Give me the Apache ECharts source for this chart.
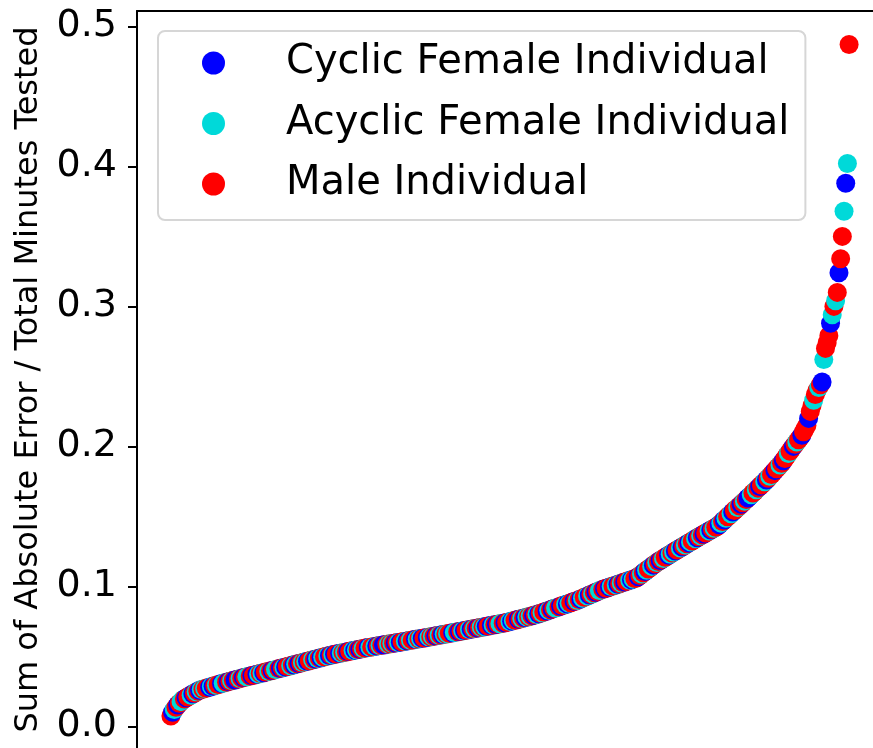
<!DOCTYPE html>
<html>
<head>
<meta charset="utf-8">
<script src="https://cdn.jsdelivr.net/npm/echarts@6/dist/echarts.min.js"></script>
<style>
  html, body { margin: 0; padding: 0; background: #fff; }
  #chart { width: 873px; height: 748px; }
</style>
</head>
<body>
<div id="chart"></div>
<script>
// Error score per individual, ranked from smallest to largest
const scores = [
  0.0075, 0.0101, 0.0121, 0.0137, 0.0153, 0.0166, 0.0177, 0.0191, 0.0196, 0.0204, 0.0210, 0.0219, 0.0223, 0.0233, 0.0237, 0.0247, 0.0252, 0.0259, 0.0264, 0.0266,
  0.0271, 0.0273, 0.0278, 0.0280, 0.0285, 0.0287, 0.0292, 0.0294, 0.0299, 0.0301, 0.0306, 0.0308, 0.0313, 0.0315, 0.0320, 0.0322, 0.0327, 0.0330, 0.0332, 0.0336,
  0.0339, 0.0342, 0.0345, 0.0349, 0.0351, 0.0354, 0.0358, 0.0360, 0.0364, 0.0366, 0.0369, 0.0373, 0.0375, 0.0379, 0.0381, 0.0384, 0.0388, 0.0390, 0.0393, 0.0397,
  0.0400, 0.0402, 0.0406, 0.0409, 0.0413, 0.0415, 0.0419, 0.0421, 0.0425, 0.0428, 0.0431, 0.0434, 0.0438, 0.0440, 0.0444, 0.0447, 0.0450, 0.0453, 0.0456, 0.0460,
  0.0463, 0.0466, 0.0469, 0.0472, 0.0476, 0.0478, 0.0482, 0.0485, 0.0488, 0.0491, 0.0494, 0.0497, 0.0501, 0.0503, 0.0507, 0.0510, 0.0512, 0.0515, 0.0517, 0.0520,
  0.0522, 0.0525, 0.0527, 0.0530, 0.0532, 0.0535, 0.0537, 0.0540, 0.0542, 0.0545, 0.0547, 0.0550, 0.0552, 0.0555, 0.0557, 0.0560, 0.0562, 0.0564, 0.0566, 0.0568,
  0.0570, 0.0571, 0.0574, 0.0577, 0.0578, 0.0580, 0.0583, 0.0584, 0.0587, 0.0588, 0.0590, 0.0593, 0.0594, 0.0596, 0.0599, 0.0600, 0.0602, 0.0605, 0.0606, 0.0609,
  0.0611, 0.0613, 0.0615, 0.0618, 0.0619, 0.0622, 0.0623, 0.0626, 0.0628, 0.0630, 0.0632, 0.0634, 0.0636, 0.0638, 0.0640, 0.0643, 0.0644, 0.0647, 0.0649, 0.0651,
  0.0653, 0.0656, 0.0658, 0.0660, 0.0662, 0.0665, 0.0667, 0.0669, 0.0671, 0.0674, 0.0676, 0.0678, 0.0680, 0.0683, 0.0685, 0.0687, 0.0690, 0.0692, 0.0694, 0.0697,
  0.0699, 0.0701, 0.0703, 0.0706, 0.0708, 0.0710, 0.0712, 0.0715, 0.0717, 0.0719, 0.0722, 0.0724, 0.0726, 0.0728, 0.0731, 0.0733, 0.0735, 0.0737, 0.0740, 0.0743,
  0.0746, 0.0750, 0.0752, 0.0756, 0.0759, 0.0762, 0.0765, 0.0768, 0.0771, 0.0775, 0.0777, 0.0781, 0.0784, 0.0787, 0.0790, 0.0793, 0.0797, 0.0800, 0.0804, 0.0808,
  0.0812, 0.0817, 0.0821, 0.0825, 0.0829, 0.0833, 0.0838, 0.0842, 0.0846, 0.0850, 0.0854, 0.0858, 0.0863, 0.0867, 0.0871, 0.0875, 0.0879, 0.0883, 0.0888, 0.0892,
  0.0896, 0.0900, 0.0906, 0.0911, 0.0916, 0.0922, 0.0927, 0.0932, 0.0938, 0.0943, 0.0948, 0.0954, 0.0959, 0.0964, 0.0970, 0.0975, 0.0979, 0.0983, 0.0987, 0.0991,
  0.0995, 0.0999, 0.1003, 0.1007, 0.1011, 0.1015, 0.1019, 0.1024, 0.1028, 0.1032, 0.1036, 0.1040, 0.1044, 0.1048, 0.1052, 0.1056, 0.1060, 0.1069, 0.1078, 0.1088,
  0.1097, 0.1106, 0.1115, 0.1124, 0.1134, 0.1143, 0.1152, 0.1161, 0.1170, 0.1178, 0.1185, 0.1193, 0.1200, 0.1208, 0.1215, 0.1223, 0.1230, 0.1238, 0.1245, 0.1253,
  0.1260, 0.1267, 0.1275, 0.1282, 0.1289, 0.1296, 0.1304, 0.1311, 0.1318, 0.1325, 0.1333, 0.1340, 0.1347, 0.1354, 0.1361, 0.1368, 0.1375, 0.1382, 0.1389, 0.1396,
  0.1403, 0.1409, 0.1416, 0.1423, 0.1430, 0.1441, 0.1452, 0.1464, 0.1475, 0.1486, 0.1497, 0.1508, 0.1519, 0.1531, 0.1542, 0.1553, 0.1564, 0.1575, 0.1586, 0.1598,
  0.1609, 0.1620, 0.1632, 0.1643, 0.1655, 0.1667, 0.1678, 0.1690, 0.1702, 0.1713, 0.1725, 0.1737, 0.1748, 0.1760, 0.1773, 0.1787, 0.1800, 0.1813, 0.1827, 0.1840,
  0.1853, 0.1867, 0.1880, 0.1897, 0.1914, 0.1931, 0.1949, 0.1966, 0.1983, 0.2000, 0.2016, 0.2032, 0.2048, 0.2064, 0.2080, 0.2105, 0.2128, 0.2150, 0.2200, 0.2250,
  0.2290, 0.2330, 0.2370, 0.2400, 0.2420, 0.2440, 0.2460,
  0.2620, 0.2700, 0.2740, 0.2790, 0.2880, 0.2940, 0.3000, 0.3040, 0.3100, 0.3240, 0.3340, 0.3500, 0.3680, 0.3880, 0.4020, 0.4870
];

// Group of each ranked individual: 0 cyclic female, 1 acyclic female, 2 male
const groups = [
  2,0,1,2,0,2,1,1,2,0,2,2,1,0,2,1,2,0,1,2,
  1,2,2,0,1,0,2,1,2,2,0,1,1,2,0,2,1,2,0,0,
  2,1,2,0,2,1,1,2,0,2,2,0,1,2,1,0,2,2,1,2,
  0,2,1,1,2,0,2,1,0,2,2,1,2,0,1,2,0,2,1,2,
  1,0,2,2,1,2,0,1,2,0,1,2,2,1,0,2,1,0,2,2,
  0,1,2,1,2,0,2,2,1,0,1,2,0,2,1,2,2,0,1,2,
  2,1,0,2,1,2,0,0,2,1,2,1,2,0,2,1,0,2,2,1,
  0,2,1,2,2,0,1,2,1,0,2,2,0,1,2,1,2,0,2,1,
  2,0,1,2,1,2,2,0,1,1,2,0,2,1,0,2,2,1,0,2,
  1,2,0,2,1,2,1,0,2,2,0,1,2,0,2,1,1,2,0,2,
  2,1,0,1,2,2,0,2,1,2,0,1,2,1,2,0,2,1,0,2,
  1,2,2,0,1,2,0,2,1,1,2,0,2,2,1,0,1,2,2,0,
  2,1,2,0,1,2,2,1,0,2,1,2,0,2,1,1,2,0,2,2,
  0,1,2,2,1,0,2,1,2,0,2,2,1,0,1,2,2,0,2,1,
  2,0,1,2,2,1,0,2,1,2,0,2,1,2,2,0,1,2,1,0,
  2,2,1,0,2,1,2,0,1,2,2,1,0,2,1,2,0,2,2,1,
  0,2,1,2,2,0,1,2,0,1,2,2,1,0,2,2,1,2,0,2,
  1,2,0,0,1,2,2,1,2,0,2,2,1,0,2,1,2,2,0,2,
  2,1,2,0,2,2,1,2,2,0,2,1,2,2,0,2,2,2,0,2,
  2,1,2,2,1,2,0,
  1,2,2,2,0,1,2,1,2,0,2,2,1,0,1,2
];

const groupNames = ['Cyclic Female Individual', 'Acyclic Female Individual', 'Male Individual'];
const groupColors = ['#0000ff', '#00d9d9', '#ff0000'];

const yTickValues = [0.0, 0.1, 0.2, 0.3, 0.4, 0.5];
const yTickLabels = ['0.0', '0.1', '0.2', '0.3', '0.4', '0.5'];

const FONT = 'DejaVu Sans';
const CHART_W = 873, CHART_H = 748;

// Plot frame: the full axes box runs past the right and bottom edges of the page,
// so only its visible part is given to the grid and the axis ranges are trimmed to match.
const FRAME = { left: 137, top: 11, width: 746, height: 738.5 };
const visibleW = CHART_W - FRAME.left;
const visibleH = CHART_H - FRAME.top;

const n = scores.length;
const xPad = 0.05 * (n - 1);
const xFullMin = -xPad, xFullMax = (n - 1) + xPad;
const xMax = xFullMin + (xFullMax - xFullMin) * visibleW / FRAME.width;

const yPad = 0.05 * (scores[n - 1] - scores[0]);
const yFullMin = scores[0] - yPad, yFullMax = scores[n - 1] + yPad;
const yMin = yFullMax - (yFullMax - yFullMin) * visibleH / FRAME.height;

const points = scores.map((v, i) => ({
  value: [i, v],
  itemStyle: { color: groupColors[groups[i]], opacity: 1 }
}));

const chart = echarts.init(document.getElementById('chart'), null, { renderer: 'canvas' });

chart.setOption({
  animation: false,
  backgroundColor: '#ffffff',
  grid: { left: FRAME.left, top: FRAME.top, right: 0, bottom: 0, show: false },
  xAxis: {
    type: 'value',
    position: 'top',
    min: xFullMin, max: xMax,
    axisLine: { show: true, onZero: false, lineStyle: { color: '#000', width: 2 } },
    axisTick: { show: false },
    axisLabel: { show: false },
    splitLine: { show: false }
  },
  yAxis: {
    type: 'value',
    min: yMin,
    max: yFullMax,
    name: 'Sum of Absolute Error / Total Minutes Tested',
    nameLocation: 'middle',
    nameGap: 92,
    nameMoveOverlap: false,
    nameTextStyle: { fontFamily: FONT, fontSize: 32, color: '#000' },
    axisLine: { show: true, onZero: false, lineStyle: { color: '#000', width: 2 } },
    axisTick: {
      show: true, inside: false, length: 9,
      lineStyle: { color: '#000', width: 2 },
      customValues: yTickValues
    },
    axisLabel: {
      show: true, margin: 20,
      fontFamily: FONT, fontSize: 38, color: '#000',
      customValues: yTickValues,
      formatter: (v) => yTickLabels[yTickValues.findIndex(t => Math.abs(t - v) < 1e-9)] ?? ''
    },
    splitLine: { show: false }
  },
  legend: {
    data: groupNames,
    orient: 'vertical',
    left: 158, top: 31,
    padding: [12, 16, 16, 44],
    itemGap: 20.5,
    itemWidth: 23, itemHeight: 23,
    icon: 'circle',
    backgroundColor: '#fff',
    borderColor: '#d6d6d6', borderWidth: 2, borderRadius: 7,
    textStyle: { fontFamily: FONT, fontSize: 40, color: '#000', padding: [0, 0, 0, 56] }
  },
  series: [
    {
      type: 'scatter',
      name: 'all',
      data: points,
      symbol: 'circle',
      symbolSize: 19,
      silent: true,
      z: 2
    },
    ...groupNames.map((name, k) => ({
      type: 'scatter', name, data: [],
      itemStyle: { color: groupColors[k], opacity: 1 }
    }))
  ]
});
</script>
</body>
</html>
